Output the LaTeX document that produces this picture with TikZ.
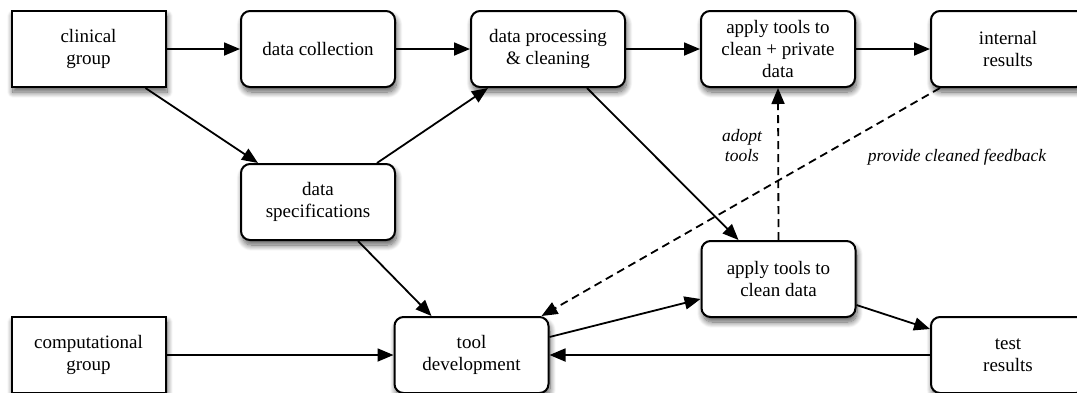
\documentclass[tikz,border=0pt]{standalone}
\usepackage{fontspec}
\setmainfont{Liberation Serif}
\usetikzlibrary{arrows.meta,shadows.blur}
\tikzset{
  box/.style={draw=black, line width=2pt, fill=white, minimum width=154pt, minimum height=76pt,
    inner sep=0pt, align=center, font=\fontsize{19}{22}\selectfont,
    blur shadow={shadow xshift=1.5pt, shadow yshift=-5pt, shadow blur radius=6pt, shadow blur steps=12, shadow opacity=65}},
  rbox/.style={box, rounded corners=9pt},
  conn/.style={line width=1.8pt, -{Triangle[length=16pt,width=13pt]}},
  dconn/.style={conn, dash pattern=on 8pt off 5pt},
  lbl/.style={font=\fontsize{17.5}{20}\selectfont\itshape, align=center, inner sep=0pt}
}
\begin{document}
\begin{tikzpicture}[x=1pt,y=-1pt]
\useasboundingbox (0,0) rectangle (1077,392);
\node[box]  (clinical) at (88.5,49) {clinical\\group};
\node[rbox] (collect)  at (318,49) {data collection};
\node[rbox] (process)  at (548,49) {data processing\\\& cleaning};
\node[rbox] (private)  at (778,49) {apply tools to\\clean + private\\data};
\node[rbox] (internal) at (1008,49) {internal\\results};
\node[rbox] (spec)     at (318,202) {data\\specifications};
\node[rbox] (clean)    at (778.5,279) {apply tools to\\clean data};
\node[box]  (comp)     at (88.5,355) {computational\\group};
\node[rbox] (tooldev)  at (471.5,355) {tool\\development};
\node[rbox] (test)     at (1008,355) {test\\results};

\draw[conn] (clinical.east) -- (collect.west);
\draw[conn] (collect.east) -- (process.west);
\draw[conn] (process.east) -- (private.west);
\draw[conn] (private.east) -- (internal.west);
\draw[conn] ([xshift=57pt]clinical.south) -- ([xshift=-60pt]spec.north);
\draw[conn] ([xshift=59pt]spec.north) -- ([xshift=-60pt]process.south);
\draw[conn] ([xshift=39pt]process.south) -- ([xshift=-40pt]clean.north);
\draw[conn] ([xshift=40pt]spec.south) -- ([xshift=-40pt]tooldev.north);
\draw[conn] (comp.east) -- (tooldev.west);
\draw[conn] (test.west) -- (tooldev.east);
\draw[conn] ([yshift=18pt]tooldev.east) -- ([yshift=-20pt]clean.west);
\draw[conn] ([yshift=-26pt]clean.east) -- ([yshift=26pt]test.west);
\draw[dconn] (clean.north) -- (private.south);
\draw[dconn] ([xshift=-68pt]internal.south) -- ([xshift=70pt]tooldev.north);

\node[lbl] (adopt) at (742,146) {adopt\\tools};
\node[lbl] (feedback) at (957,157) {provide cleaned feedback};
\end{tikzpicture}
\end{document}
